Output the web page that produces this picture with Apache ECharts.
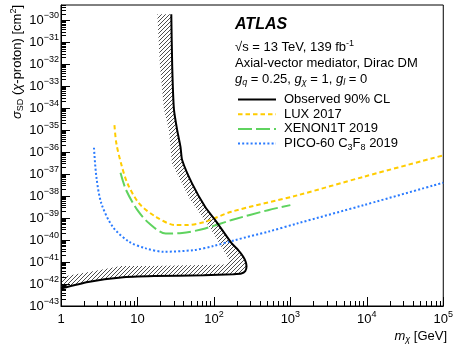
<!DOCTYPE html>
<html>
<head>
<meta charset="utf-8">
<script src="https://cdn.jsdelivr.net/npm/echarts@6/dist/echarts.min.js"></script>
<style>
  html, body { margin: 0; padding: 0; background: #fff; }
  #chart { width: 456px; height: 344px; }
</style>
</head>
<body>
<div id="chart"></div>
<script>
// values: m_chi [GeV] vs sigma_SD [cm^2]
var obsMass = [27.7, 28.5, 30.0, 33.1, 36.6, 38.4, 51.7, 77, 104, 171, 208, 242, 261, 267, 257, 228, 179, 73, 16.5, 6.1, 2.26, 1];
var obsXsec = [1.9e-30, 7.6e-33, 8.9e-35, 1e-35, 1.7e-36, 4.4e-37, 3.8e-38, 3.2e-39, 8.1e-40, 7.1e-41, 3.5e-41, 1.74e-41, 1e-41, 6.2e-42, 3.9e-42, 3.0e-42, 2.8e-42, 2.5e-42, 2.3e-42, 2.0e-42, 1.25e-42, 6.3e-43];

// inner edge of the hatched band
var hatchMass = [18.2, 19.7, 22.2, 25.8, 28.2, 46.9, 93, 133, 159, 137, 73, 14.2, 6.1, 3.2, 1];
var hatchXsec = [1.9e-30, 8.1e-33, 8.9e-35, 1e-35, 3.2e-37, 8.9e-39, 2.8e-40, 3.5e-41, 1.23e-41, 7.7e-42, 7.3e-42, 6.6e-42, 6.6e-42, 4.4e-42, 2.1e-42];

var luxMass = [5.0, 5.3, 6.1, 7.4, 10.5, 17.4, 31.5, 42.5, 77, 169, 1247, 9100, 100000];
var luxXsec = [1.7e-35, 2.5e-36, 3.1e-37, 3.8e-38, 4.7e-39, 1.15e-39, 4.8e-40, 4.8e-40, 6.8e-40, 1.95e-39, 1.1e-38, 7.6e-38, 7.2e-37];

var xenonMass = [6.0, 7.1, 10, 14.2, 23.4, 38.4, 77, 171, 510, 1000];
var xenonXsec = [1.15e-37, 1.9e-38, 2.3e-39, 5.8e-40, 2.0e-40, 2.1e-40, 3.4e-40, 8.2e-40, 2.3e-39, 3.9e-39];

var picoMass = [2.7, 2.9, 3.37, 4.76, 7.83, 12.9, 22.2, 54.4, 99, 189, 510, 1250, 9100, 100000];
var picoXsec = [1.6e-36, 7.6e-38, 4.7e-39, 4.0e-40, 8.3e-41, 4.2e-41, 2.95e-41, 3.5e-41, 5.4e-41, 1.0e-40, 2.4e-40, 5.8e-40, 3.9e-39, 4.1e-38];

var xMajor = [1, 10, 100, 1000, 10000, 100000];
var yMajorExp = [-43, -42, -41, -40, -39, -38, -37, -36, -35, -34, -33, -32, -31, -30];
var xMin = 1, xMax = 1e5, yMinExp = -43, yMaxExp = -29.3;

var legendNames = ['Observed 90% CL', 'LUX 2017', 'XENON1T 2019', 'PICO-60 C3F8 2019'];

var FONT = '"Liberation Sans", Arial, Helvetica, sans-serif';

// ECharts rounds log-axis extents to 20 decimals, so cm^2 is fed in units of 1e-40 cm^2
var YSHIFT = 40;
function ys(v) { return v * Math.pow(10, YSHIFT); }

function pairs(xs, yv) {
    var out = [];
    for (var i = 0; i < xs.length; i++) out.push([xs[i], ys(yv[i])]);
    return out;
}

var yMajor = yMajorExp.map(function (e) { return Math.pow(10, e + YSHIFT); });

// log minor ticks 2..9 in each decade
var xMinor = [], yMinor = [];
for (var d = 0; d < 5; d++) for (var m = 2; m < 10; m++) xMinor.push(m * Math.pow(10, d));
for (var e = yMinExp; e <= -30; e++) for (var m2 = 2; m2 < 10; m2++) {
    if (e + Math.log10(m2) <= yMaxExp) yMinor.push(m2 * Math.pow(10, e + YSHIFT));
}

// hatch pattern
var hatch = document.createElement('canvas');
hatch.width = 4; hatch.height = 4;
var hc = hatch.getContext('2d');
hc.strokeStyle = '#111';
hc.lineWidth = 0.75;
hc.beginPath();
hc.moveTo(-1, 5); hc.lineTo(5, -1);
hc.moveTo(-1, 1); hc.lineTo(1, -1);
hc.moveTo(3, 5); hc.lineTo(5, 3);
hc.stroke();

var expRich = {
    b: {fontSize: 13, fontFamily: FONT, color: '#000', lineHeight: 18, verticalAlign: 'middle'},
    s: {fontSize: 9, fontFamily: FONT, color: '#000', lineHeight: 10, verticalAlign: 'top'}
};

function expText(e) {
    if (e === 0) return '{b|1}';
    if (e === 1) return '{b|10}';
    return '{b|10}{s|' + String(e).replace('-', '\u2212') + '}';
}

var chart = echarts.init(document.getElementById('chart'));

var txt = {
    t: {fontSize: 13, fontFamily: FONT, color: '#000', lineHeight: 16},
    i: {fontSize: 13, fontFamily: FONT, fontStyle: 'italic', color: '#000', lineHeight: 16},
    sup: {fontSize: 9, fontFamily: FONT, color: '#000', lineHeight: 9, verticalAlign: 'top'},
    sub: {fontSize: 9, fontFamily: FONT, color: '#000', lineHeight: 9, verticalAlign: 'bottom'},
    subi: {fontSize: 9, fontFamily: FONT, fontStyle: 'italic', color: '#000', lineHeight: 9, verticalAlign: 'bottom'}
};

var option = {
    animation: false,
    backgroundColor: '#fff',
    grid: {left: 61, right: 9, top: 5, bottom: 38, show: true, borderColor: '#000', borderWidth: 1},
    xAxis: [
        {
            type: 'log', logBase: 10, min: xMin, max: xMax, position: 'bottom',
            axisLine: {show: true, lineStyle: {color: '#000', width: 1}},
            axisTick: {show: true, inside: true, length: 9, customValues: xMajor, lineStyle: {color: '#000'}},
            axisLabel: {
                show: true, customValues: xMajor, margin: 4, rich: expRich,
                formatter: function (v) { return expText(Math.round(Math.log10(v))); }
            },
            splitLine: {show: false}
        },
        {
            type: 'log', logBase: 10, min: xMin, max: xMax, position: 'bottom',
            axisLine: {show: false},
            axisTick: {show: true, inside: true, length: 5, customValues: xMinor, lineStyle: {color: '#000'}},
            axisLabel: {show: false},
            splitLine: {show: false}
        }
    ],
    yAxis: [
        {
            type: 'log', logBase: 10, min: Math.pow(10, yMinExp + YSHIFT), max: Math.pow(10, yMaxExp + YSHIFT), position: 'left',
            axisLine: {show: true, lineStyle: {color: '#000', width: 1}},
            axisTick: {show: true, inside: true, length: 9, customValues: yMajor, lineStyle: {color: '#000'}},
            axisLabel: {
                show: true, customValues: yMajor, margin: 2, rich: expRich,
                formatter: function (v) { return expText(Math.round(Math.log10(v)) - YSHIFT); }
            },
            splitLine: {show: false}
        },
        {
            type: 'log', logBase: 10, min: Math.pow(10, yMinExp + YSHIFT), max: Math.pow(10, yMaxExp + YSHIFT), position: 'left',
            axisLine: {show: false},
            axisTick: {show: true, inside: true, length: 5, customValues: yMinor, lineStyle: {color: '#000'}},
            axisLabel: {show: false},
            splitLine: {show: false}
        }
    ],
    legend: {
        orient: 'vertical', left: 232, top: 88,
        itemWidth: 38, itemHeight: 14, itemGap: 1.7,
        data: legendNames,
        itemStyle: {opacity: 0},
        formatter: function (name) {
            if (name.indexOf('PICO') === 0) return '{t|PICO-60 C}{sub|3}{t|F}{sub|8}{t| 2019}';
            return '{t|' + name + '}';
        },
        textStyle: {padding: [0, 0, 0, 3], rich: txt}
    },
    graphic: [
        {type: 'text', x: 235, y: 25, style: {text: 'ATLAS', fontSize: 16, fontWeight: 'bold', fontStyle: 'italic', fontFamily: FONT, fill: '#000', verticalAlign: 'middle'}},
        {type: 'text', x: 235, y: 47, style: {text: '{t|\u221As = 13 TeV, 139 fb}{sup|-1}', rich: txt, verticalAlign: 'middle'}},
        {type: 'text', x: 235, y: 63, style: {text: '{t|Axial-vector mediator, Dirac DM}', rich: txt, verticalAlign: 'middle'}},
        {type: 'text', x: 235, y: 79, style: {text: '{i|g}{subi|q}{t| = 0.25, }{i|g}{subi|\u03C7}{t| = 1, }{i|g}{subi|l}{t| = 0}', rich: txt, verticalAlign: 'middle'}},
        {type: 'text', x: 447, y: 336, style: {text: '{i|m}{subi|\u03C7}{t| [GeV]}', rich: txt, align: 'right', verticalAlign: 'middle'}},
        {type: 'text', x: 17, y: 5, rotation: Math.PI / 2, style: {text: '{i|\u03C3}{sub|SD}{t| (}{i|\u03C7}{t|-proton) [cm}{sup|2}{t|]}', rich: txt, align: 'right', verticalAlign: 'middle'}}
    ],
    series: [
        {
            type: 'custom', xAxisIndex: 0, yAxisIndex: 0, z: 1, silent: true,
            data: [[obsMass[0], ys(obsXsec[0])]],
            renderItem: function (params, api) {
                var pts = [], i;
                for (i = 0; i < obsMass.length; i++) pts.push(api.coord([obsMass[i], ys(obsXsec[i])]));
                for (i = hatchMass.length - 1; i >= 0; i--) pts.push(api.coord([hatchMass[i], ys(hatchXsec[i])]));
                return {type: 'polygon', shape: {points: pts}, style: {fill: {image: hatch, repeat: 'repeat'}, stroke: null}};
            }
        },
        {
            name: legendNames[0], type: 'line', z: 5, showSymbol: false, symbol: 'none', smooth: 0.2,
            data: pairs(obsMass, obsXsec),
            lineStyle: {color: '#000', width: 2}, itemStyle: {color: '#000'}
        },
        {
            name: legendNames[1], type: 'line', z: 3, showSymbol: false, symbol: 'none', smooth: 0.3,
            data: pairs(luxMass, luxXsec),
            lineStyle: {color: '#ffcc00', width: 2, type: [4.5, 3]}, itemStyle: {color: '#ffcc00'}
        },
        {
            name: legendNames[2], type: 'line', z: 3, showSymbol: false, symbol: 'none', smooth: 0.3,
            data: pairs(xenonMass, xenonXsec),
            lineStyle: {color: '#5fd35f', width: 2, type: [14, 4]}, itemStyle: {color: '#5fd35f'}
        },
        {
            name: legendNames[3], type: 'line', z: 3, showSymbol: false, symbol: 'none', smooth: 0.3,
            data: pairs(picoMass, picoXsec),
            lineStyle: {color: '#2a7bff', width: 2, type: [2, 2.2]}, itemStyle: {color: '#2a7bff'}
        }
    ]
};

chart.setOption(option);
</script>
</body>
</html>
